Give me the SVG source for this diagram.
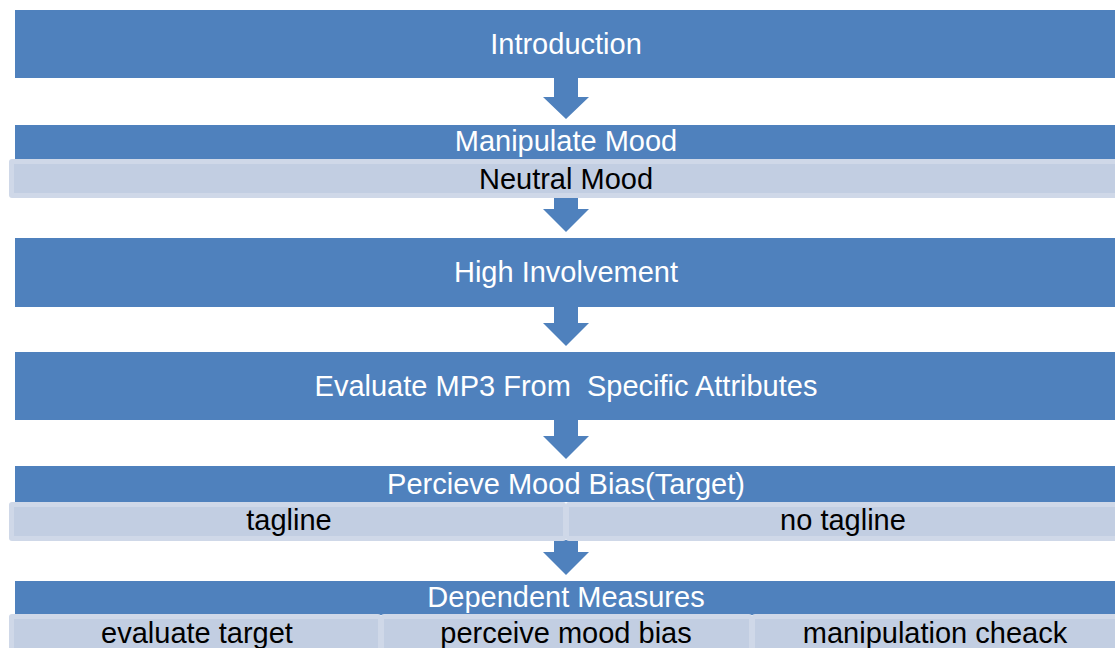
<svg xmlns="http://www.w3.org/2000/svg" width="1115" height="648" viewBox="0 0 1115 648">
<style>
.box{fill:#4F81BD}
.cellO{fill:#CFD8E8}
.cellI{fill:#C2CEE2}
.arr{fill:#4F81BD}
.tw{font-family:"Liberation Sans",Arial,sans-serif;font-size:29px;fill:#FFFFFF;text-anchor:middle}
.tb{font-family:"Liberation Sans",Arial,sans-serif;font-size:29px;fill:#000000;text-anchor:middle}
</style>
<rect width="1115" height="648" fill="#FFFFFF"/>
<g id="connectors">
<path class="arr" d="M554,77 H578 V97 H589 L566,119 L543,97 H554 Z"/>
<path class="arr" d="M554,197 H578 V209 H589 L566,232 L543,209 H554 Z"/>
<path class="arr" d="M554,306 H578 V323 H589 L566,346 L543,323 H554 Z"/>
<path class="arr" d="M554,420 H578 V436 H589 L566,459 L543,436 H554 Z"/>
<path class="arr" d="M554,540 H578 V552 H589 L566,575 L543,552 H554 Z"/>
</g>
<g id="introduction">
<rect class="box" x="15" y="10" width="1102" height="68"/>
<text class="tw" x="566" y="54">Introduction</text>
</g>
<g id="manipulate-mood">
<rect class="box" x="15" y="125" width="1102" height="34"/>
<text class="tw" x="566" y="151">Manipulate Mood</text>
</g>
<g id="neutral-mood">
<rect class="cellO" x="9" y="159" width="1113" height="39" rx="3"/>
<rect class="cellI" x="14" y="164" width="1103" height="29"/>
<text class="tb" x="566" y="189">Neutral Mood</text>
</g>
<g id="high-involvement">
<rect class="box" x="15" y="238" width="1102" height="69"/>
<text class="tw" x="566" y="282">High Involvement</text>
</g>
<g id="evaluate-mp3">
<rect class="box" x="15" y="352" width="1102" height="68"/>
<text class="tw" x="566" y="396" xml:space="preserve">Evaluate MP3 From  Specific Attributes</text>
</g>
<g id="perceive-mood-bias">
<rect class="box" x="15" y="466" width="1102" height="36"/>
<text class="tw" x="566" y="494">Percieve Mood Bias(Target)</text>
</g>
<g id="tagline">
<rect class="cellO" x="9" y="502" width="557" height="39" rx="3"/>
<rect class="cellI" x="14" y="507" width="549" height="29"/>
<text class="tb" x="289" y="530">tagline</text>
</g>
<g id="no-tagline">
<rect class="cellO" x="566" y="502" width="556" height="39" rx="3"/>
<rect class="cellI" x="569" y="507" width="548" height="29"/>
<text class="tb" x="843" y="530">no tagline</text>
</g>
<g id="dependent-measures">
<rect class="box" x="15" y="581" width="1102" height="34"/>
<text class="tw" x="566" y="607">Dependent Measures</text>
</g>
<g id="evaluate-target">
<rect class="cellO" x="9" y="614" width="372" height="40" rx="3"/>
<rect class="cellI" x="14" y="619" width="364" height="30"/>
<text class="tb" x="197" y="643">evaluate target</text>
</g>
<g id="perceive-mood-bias-measure">
<rect class="cellO" x="381" y="614" width="371" height="40" rx="3"/>
<rect class="cellI" x="384" y="619" width="365" height="30"/>
<text class="tb" x="566" y="643">perceive mood bias</text>
</g>
<g id="manipulation-check">
<rect class="cellO" x="752" y="614" width="370" height="40" rx="3"/>
<rect class="cellI" x="755" y="619" width="362" height="30"/>
<text class="tb" x="935" y="643">manipulation cheack</text>
</g>
</svg>
